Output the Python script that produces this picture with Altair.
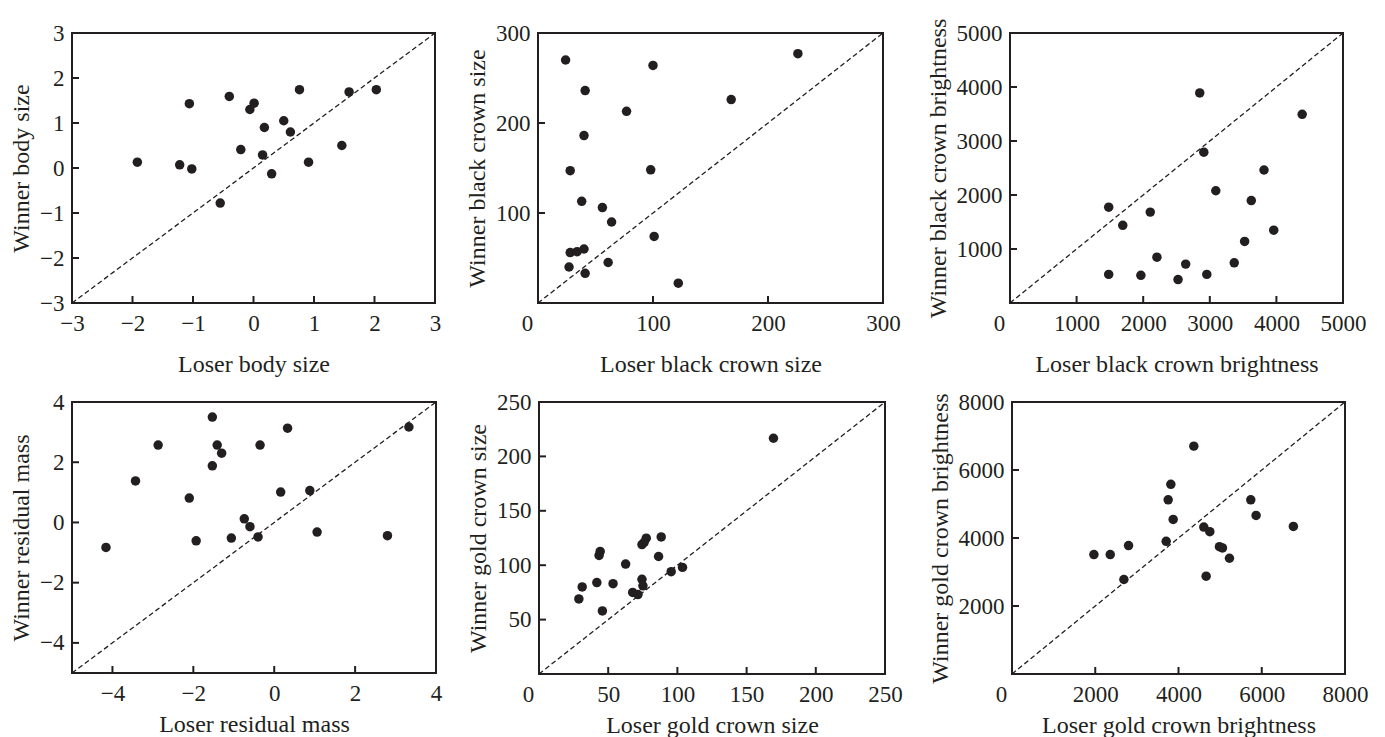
import altair as alt
import pandas as pd

# ---- data ----
body_loser = [-1.92, -1.06, -1.22, -1.02, -0.40, -0.21, -0.55, -0.06, 0.01, 0.18,
              0.15, 0.30, 0.50, 0.61, 0.76, 0.91, 1.46, 1.58, 2.03]
body_winner = [0.13, 1.43, 0.07, -0.02, 1.59, 0.41, -0.78, 1.30, 1.44, 0.90,
               0.29, -0.13, 1.05, 0.80, 1.74, 0.13, 0.50, 1.69, 1.74]

bsize_loser = [24, 100, 226, 41, 168, 77, 40, 28, 98, 38, 56, 64, 101, 28, 34, 40, 27, 41, 61, 122]
bsize_winner = [270, 264, 277, 236, 226, 213, 186, 147, 148, 113, 106, 90, 74, 56, 57, 60, 40, 33, 45, 22]

bbright_loser = [2849, 4387, 2910, 3814, 3090, 3623, 1482, 2106, 1693, 3960,
                 3523, 2206, 3367, 2638, 1482, 1965, 2955, 2523]
bbright_winner = [3890, 3494, 2793, 2463, 2079, 1896, 1774, 1683, 1439, 1348,
                  1140, 848, 744, 720, 530, 512, 530, 433]

mass_loser = [-1.53, 0.33, 3.33, -2.87, -1.41, -0.35, -1.30, -1.53, -3.43, -2.10,
              0.16, 0.88, -0.74, -0.60, -4.16, -1.93, -1.06, -0.40, 1.06, 2.80]
mass_winner = [3.50, 3.13, 3.17, 2.57, 2.57, 2.57, 2.30, 1.88, 1.38, 0.81,
               1.01, 1.06, 0.12, -0.14, -0.83, -0.61, -0.52, -0.48, -0.32, -0.44]

gsize_loser = [169.4, 77.5, 88.3, 74.4, 76.0, 44.2, 43.4, 86.4, 62.6, 103.7,
               95.5, 41.8, 53.5, 74.4, 75.1, 31.2, 67.7, 71.5, 28.8, 45.8]
gsize_winner = [216.7, 124.8, 126.0, 119.0, 121.0, 112.7, 109.0, 108.0, 101.0, 98.0,
                94.0, 84.0, 83.0, 87.0, 81.0, 80.0, 75.0, 73.0, 69.0, 58.0]

gbright_loser = [4368, 3816, 3752, 5736, 5864, 3872, 6760, 4608, 4752, 3704,
                 2800, 4984, 5056, 1968, 2360, 5224, 2688, 4664]
gbright_winner = [6702, 5580, 5122, 5122, 4663, 4546, 4341, 4322, 4185, 3902,
                  3776, 3746, 3707, 3512, 3512, 3405, 2780, 2878]

INK = "#231f20"
FONT = "Liberation Serif"


def panel(loser, winner, lo, hi, xlabels, ylabels, xticks, yticks,
          xtitle, ytitle, w, h, zero_shift, xtitle_pad):
    sc = alt.Scale(domain=[lo, hi], nice=False, zero=False)
    xaxis_kw = dict(values=xlabels, title=xtitle, grid=False, ticks=False, format="d",
                    tickSize=0, domain=False, labelFlush=False, labelOverlap=False,
                    titlePadding=xtitle_pad)
    if zero_shift:
        xaxis_kw["labelOffset"] = {"condition": {"test": "datum.value === 0", "value": -11},
                                   "value": 0}
    xenc = alt.X("x:Q", scale=sc, axis=alt.Axis(**xaxis_kw))
    yenc = alt.Y("y:Q", scale=sc,
                 axis=alt.Axis(values=ylabels, title=ytitle, grid=False, ticks=False,
                               format="d", tickSize=0, domain=False, labelFlush=False,
                               labelOverlap=False))

    pts = alt.Chart(pd.DataFrame({"x": loser, "y": winner})).mark_circle(
        size=90, color=INK, opacity=1).encode(x=xenc, y=yenc)

    diag = alt.Chart(pd.DataFrame({"x": [lo, hi], "y": [lo, hi]})).mark_line(
        color=INK, strokeWidth=1.3, strokeDash=[5, 3]).encode(x=xenc, y=yenc)

    xt = alt.Chart(pd.DataFrame({"x": xticks})).mark_rule(
        color=INK, strokeWidth=2).encode(x=xenc, y=alt.value(h), y2=alt.value(h - 7))
    yt = alt.Chart(pd.DataFrame({"y": yticks})).mark_rule(
        color=INK, strokeWidth=2).encode(y=yenc, x=alt.value(0), x2=alt.value(7))

    return alt.layer(diag, xt, yt, pts).properties(width=w, height=h)


p1 = panel(body_loser, body_winner, -3, 3,
           [-3, -2, -1, 0, 1, 2, 3], [-3, -2, -1, 0, 1, 2, 3],
           [-2, -1, 0, 1, 2], [-2, -1, 0, 1, 2],
           "Loser body size", "Winner body size", 363, 270, False, 17)
p2 = panel(bsize_loser, bsize_winner, 0, 300,
           [0, 100, 200, 300], [100, 200, 300],
           [100, 200], [100, 200],
           "Loser black crown size", "Winner black crown size", 345, 270, True, 17)
p3 = panel(bbright_loser, bbright_winner, 0, 5000,
           [0, 1000, 2000, 3000, 4000, 5000], [1000, 2000, 3000, 4000, 5000],
           [1000, 2000, 3000, 4000], [1000, 2000, 3000, 4000],
           "Loser black crown brightness", "Winner black crown brightness", 333, 270, True, 17)
p4 = panel(mass_loser, mass_winner, -5, 4,
           [-4, -2, 0, 2, 4], [-4, -2, 0, 2, 4],
           [-4, -2, 0, 2], [-4, -2, 0, 2],
           "Loser residual mass", "Winner residual mass", 364, 271, False, 7)
p5 = panel(gsize_loser, gsize_winner, 0, 250,
           [0, 50, 100, 150, 200, 250], [50, 100, 150, 200, 250],
           [50, 100, 150, 200], [50, 100, 150, 200],
           "Loser gold crown size", "Winner gold crown size", 346, 272, True, 7)
p6 = panel(gbright_loser, gbright_winner, 0, 8000,
           [0, 2000, 4000, 6000, 8000], [2000, 4000, 6000, 8000],
           [2000, 4000, 6000], [2000, 4000, 6000],
           "Loser gold crown brightness", "Winner gold crown brightness", 333, 272, True, 7)

top = alt.hconcat(p1, p2, p3, spacing=22)
bottom = alt.hconcat(p4, p5, p6, spacing=22)

chart = alt.vconcat(top, bottom, spacing=13).properties(
    padding={"left": 0, "top": 9, "right": 0, "bottom": 0},
    background="white",
).configure_view(
    stroke=INK, strokeWidth=2
).configure_axis(
    labelFont=FONT, labelFontSize=23, labelColor=INK,
    titleFont=FONT, titleFontSize=24, titleFontWeight="normal", titleColor=INK,
).configure_axisX(
    labelPadding=9
).configure_axisY(
    labelPadding=8, titlePadding=6
)

chart.save("out.html", embed_options={"renderer": "svg", "actions": False})
